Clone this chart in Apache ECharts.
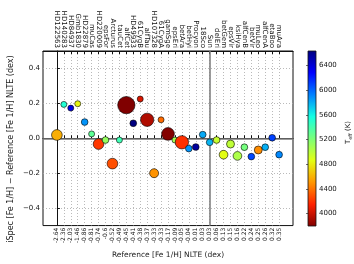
<!DOCTYPE html>
<html><head><meta charset="utf-8">
<script src="https://cdn.jsdelivr.net/npm/echarts@6/dist/echarts.min.js"></script>
<style>html,body{margin:0;padding:0;background:#fff}#c{width:354px;height:264px}</style>
</head><body><div id="c"></div>
<script>
const starNames = ['HD122563','HD140283','HD84937','Gmb1830','HD22879','muCas','HD220009','epsFor','Arcturus','tauCet','alfCet','HD49933','61CygB','alfTau','HD107328','61CygA','gamSge','epsEri','betAra','betHyi','Procyon','18Sco','Sun','delEri','betGem','epsVir','ksiHya','alfCenB','betVir','muLeo','alfCenA','etaBoo','muAra'];
const fehLabels = ['-2.64','-2.36','-2.03','-1.46','-0.86','-0.81','-0.74','-0.6','-0.52','-0.49','-0.45','-0.41','-0.38','-0.37','-0.33','-0.33','-0.17','-0.09','-0.05','-0.04','0.01','0.03','0.03','0.06','0.13','0.15','0.16','0.22','0.24','0.25','0.26','0.32','0.35'];
const deltaFeH = [0.019,0.194,0.173,0.198,0.093,0.025,-0.033,-0.01,-0.145,-0.01,0.19,0.086,0.225,0.106,-0.2,0.106,0.025,-0.01,-0.023,-0.059,-0.05,0.021,-0.023,-0.01,-0.094,-0.033,-0.101,-0.051,-0.105,-0.067,-0.051,0.003,-0.094];
const teff = [4587,5522,6356,4827,5868,5308,4217,5123,4286,5414,3796,6635,4044,3927,4496,4374,3807,5076,4197,5873,6554,5810,5777,4954,4858,4983,5044,5231,6083,4474,5792,6099,5902];
const markerDiam = [10.7,6,6,6,6.7,6,10.7,6.7,10.7,6,17.3,6.7,6,13.3,9,6,12.7,6,13.3,6.7,6.7,6.7,6.7,6.7,8.7,8,8.7,6.7,6.7,8,6.7,6.7,6.7];
const yTicks = [-0.4,-0.2,0,0.2,0.4];
const cbarTicks = [4000,4400,4800,5200,5600,6000,6400];
const teffMin = 3796, teffMax = 6635;
const sunIndex = 22;
const yTitle = 'iSpec [Fe 1/H] \u2212 Reference [Fe 1/H] NLTE (dex)';
const xTitle = 'Reference [Fe 1/H] NLTE (dex)';

const jetR = ['#800000','#FF2100','#FF9600','#E3FF14','#7AFF7A','#14FFE3','#0080FF','#0000FF','#000080'];
const FONT = 'DejaVu Sans';
const idx = starNames.map((_, i) => i);

const chart = echarts.init(document.getElementById('c'), null, {renderer: 'canvas'});
const gridLine = {show: true, lineStyle: {color: '#a8a8a8', width: 0.8, type: [1, 2]}};

chart.setOption({
  animation: false,
  textStyle: {fontFamily: FONT},
  grid: [
    {left: 43, top: 51, right: 61, bottom: 38, show: true, borderColor: '#111', borderWidth: 1},
    {left: 308, top: 51, width: 9, bottom: 38}
  ],
  graphic: [
    {type: 'text', x: 11, y: 149, rotation: Math.PI / 2, silent: true,
     style: {text: yTitle, fontSize: 8, fontFamily: FONT, fill: '#222', align: 'center', verticalAlign: 'middle'}}
  ],
  xAxis: [
    {gridIndex: 0, type: 'value', position: 'bottom', min: -2, max: 34, interval: 1,
     name: xTitle, nameLocation: 'middle', nameGap: 22,
     nameTextStyle: {fontSize: 7.5, color: '#222', fontFamily: FONT},
     axisLine: {show: true, lineStyle: {color: '#111', width: 1}},
     axisTick: {show: true, inside: true, length: 3, customValues: idx, lineStyle: {color: '#111'}},
     axisLabel: {customValues: idx, rotate: 90, fontSize: 6, margin: 2, color: '#111', fontFamily: FONT,
                 formatter: v => fehLabels[v] !== undefined ? fehLabels[v] : ''},
     splitLine: gridLine},
    {gridIndex: 0, type: 'value', position: 'top', min: -2, max: 34, interval: 1,
     axisLine: {show: true, lineStyle: {color: '#111', width: 1}},
     axisTick: {show: true, inside: true, length: 3, customValues: idx, lineStyle: {color: '#111'}},
     axisLabel: {customValues: idx, rotate: 90, fontSize: 7, margin: 3, color: '#111', fontFamily: FONT,
                 formatter: v => starNames[v] !== undefined ? starNames[v] : ''},
     splitLine: {show: false}},
    {gridIndex: 1, type: 'value', min: 0, max: 1, show: false}
  ],
  yAxis: [
    {gridIndex: 0, type: 'value', min: -0.5, max: 0.5, splitNumber: 5,
     axisLine: {show: true, lineStyle: {color: '#111', width: 1}},
     axisTick: {show: true, inside: true, length: 3, customValues: yTicks, lineStyle: {color: '#111'}},
     axisLabel: {customValues: yTicks, fontSize: 7, margin: 3, color: '#111', fontFamily: FONT,
                 formatter: v => v.toFixed(1).replace('-', '\u2212')},
     splitLine: gridLine},
    {gridIndex: 1, type: 'value', min: teffMin, max: teffMax, position: 'right',
     name: '{a|T}{b|eff}{a| (K)}', nameLocation: 'middle', nameGap: 27, nameRotate: 90,
     nameTextStyle: {fontFamily: FONT, color: '#222', padding: [0, 0, 0, 12],
       rich: {a: {fontSize: 7, fontFamily: FONT, color: '#222', verticalAlign: 'middle', lineHeight: 10},
              b: {fontSize: 5, fontFamily: FONT, color: '#222', verticalAlign: 'bottom', lineHeight: 10}}},
     axisLine: {show: false},
     axisTick: {show: true, inside: true, length: 2, customValues: cbarTicks, lineStyle: {color: '#111', width: 0.6}},
     axisLabel: {customValues: cbarTicks, fontSize: 7, margin: 3, color: '#111', fontFamily: FONT,
                 formatter: v => String(Math.round(v))},
     splitLine: {show: false}}
  ],
  visualMap: {show: false, type: 'continuous', min: teffMin, max: teffMax, dimension: 2, seriesIndex: 0,
              inRange: {color: jetR}},
  series: [
    {type: 'scatter', xAxisIndex: 0, yAxisIndex: 0, z: 3,
     data: deltaFeH.map((d, i) => [i, d, teff[i], markerDiam[i]]),
     symbolSize: v => v[3],
     itemStyle: {borderColor: '#000', borderWidth: 0.6, opacity: 1},
     emphasis: {disabled: true}},
    {type: 'line', xAxisIndex: 0, yAxisIndex: 0, data: [], z: 1, silent: true,
     markLine: {silent: true, z: 1, symbol: 'none', animation: false, label: {show: false},
                lineStyle: {color: '#7a7a7a', width: 1.5, type: 'solid'},
                data: [{yAxis: 0}, {xAxis: sunIndex}]}},
    {type: 'custom', xAxisIndex: 2, yAxisIndex: 1, silent: true,
     data: [[0, teffMin, 1, teffMax]],
     renderItem: (params, api) => {
       const p0 = api.coord([api.value(0), api.value(3)]);
       const p1 = api.coord([api.value(2), api.value(1)]);
       const stops = jetR.map((c, i) => ({offset: i / (jetR.length - 1), color: c}));
       return {type: 'rect', shape: {x: p0[0], y: p0[1], width: p1[0] - p0[0], height: p1[1] - p0[1]},
               style: {fill: new echarts.graphic.LinearGradient(0, 1, 0, 0, stops), stroke: '#111', lineWidth: 0.8}};
     }}
  ]
});
</script></body></html>
